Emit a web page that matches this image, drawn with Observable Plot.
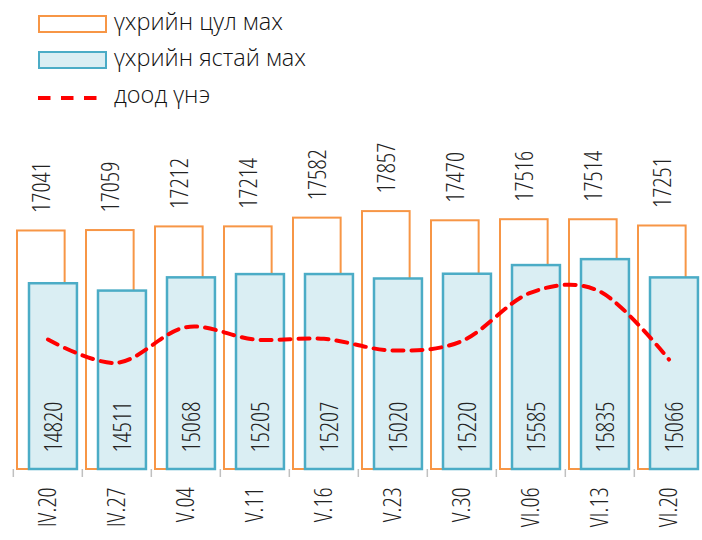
<!DOCTYPE html>
<html>
<head>
<meta charset="utf-8">
<script src="https://cdn.jsdelivr.net/npm/d3@7"></script>
<script src="https://cdn.jsdelivr.net/npm/@observablehq/plot@0.6"></script>
<style>
  html, body { margin: 0; padding: 0; background: #fff; overflow: hidden; width: 702px; height: 540px; }
  #legend { position: relative; width: 702px; height: 120px; font-family: "Open Sans", sans-serif; font-weight: 300; font-size: 23.5px; color: #111; }
  .sw { position: absolute; box-sizing: border-box; }
  .lab { position: absolute; left: 114px; white-space: nowrap; line-height: 1; }
  #chart svg { display: block; }
</style>
</head>
<body>
<div id="legend"></div>
<div id="chart"></div>
<script>
const categories = ["IV.20","IV.27","V.04","V.11","V.16","V.23","V.30","VI.06","VI.13","VI.20"];
const tsulMakh = [17041,17059,17212,17214,17582,17857,17470,17516,17514,17251];
const yastaiMakh = [14820,14511,15068,15205,15207,15020,15220,15585,15835,15066];
const doodUne = [12470,11490,12990,12470,12500,12010,12410,14450,14490,11630];
const seriesNames = ["үхрийн цул мах", "үхрийн ястай мах", "доод үнэ"];
const yMin = 7000, yMax = 18000;

const orange = "#f79646", blueStroke = "#4bacc6", blueFill = "#daeef3", red = "#ff0000", txt = "#222222";

const data = categories.map((c, i) => ({cat: c, tsul: tsulMakh[i], yastai: yastaiMakh[i], dood: doodUne[i]}));

// Legend
const legend = document.getElementById("legend");
legend.innerHTML = `
  <div class="sw" style="left:38px;top:15px;width:69px;height:18px;border:2px solid ${orange};background:#fff"></div>
  <div class="lab" style="top:10px">${seriesNames[0]}</div>
  <div class="sw" style="left:38px;top:51px;width:69px;height:18px;border:2px solid ${blueStroke};background:${blueFill}"></div>
  <div class="lab" style="top:46px">${seriesNames[1]}</div>
  <svg class="sw" style="left:36px;top:92px" width="64" height="12"><line x1="2" y1="6" x2="61" y2="6" stroke="${red}" stroke-width="4" stroke-dasharray="12.5,10.5"/></svg>
  <div class="lab" style="top:83px">${seriesNames[2]}</div>
`;

const x0 = 11.7, x1 = 705.3;
const bw = (x1 - x0) / categories.length;
const fs = 25;
const font = "Open Sans";

const chart = Plot.plot({
  width: 702,
  height: 420,
  marginTop: 87.7,
  marginBottom: 71,
  marginLeft: 0,
  marginRight: 0,
  style: {fontFamily: font, fontWeight: 300, fontStretch: "87.5%", color: txt, background: "#fff", overflow: "visible"},
  x: {type: "band", domain: categories, range: [x0, x1], padding: 0, label: null},
  y: {domain: [yMin, yMax], axis: null},
  marks: [
    Plot.barY(data, {x: "cat", y1: yMin, y2: "tsul", fill: "#fff", stroke: orange, strokeWidth: 2, insetLeft: 4, insetRight: bw - 52}),
    Plot.barY(data, {x: "cat", y1: yMin, y2: "yastai", fill: blueFill, stroke: blueStroke, strokeWidth: 2.5, insetLeft: 16, insetRight: bw - 64.3}),
    Plot.ruleY([yMin], {x1: categories[0], stroke: "#c0c0c0", strokeWidth: 2}),
    Plot.axisX({tickSize: 8, tickFormat: () => "", dx: -bw / 2, stroke: "#c0c0c0", strokeWidth: 1.5, label: null}),
    Plot.axisX({tickSize: 0, tickPadding: 17.7, tickRotate: -90, fontSize: fs, fill: txt, label: null}),
    Plot.line(data, {x: "cat", y: "dood", stroke: red, strokeWidth: 4, strokeDasharray: "11,8", curve: "cardinal"}),
    Plot.text(data, {x: "cat", y: "tsul", text: d => String(d.tsul), rotate: -90, textAnchor: "start", dy: -18, dx: -5.6, fontSize: fs, fill: txt}),
    Plot.text(data, {x: "cat", y: yMin, text: d => String(d.yastai), rotate: -90, textAnchor: "start", dy: -17, dx: 6, fontSize: fs, fill: txt})
  ]
});
document.getElementById("chart").appendChild(chart);
</script>
</body>
</html>
